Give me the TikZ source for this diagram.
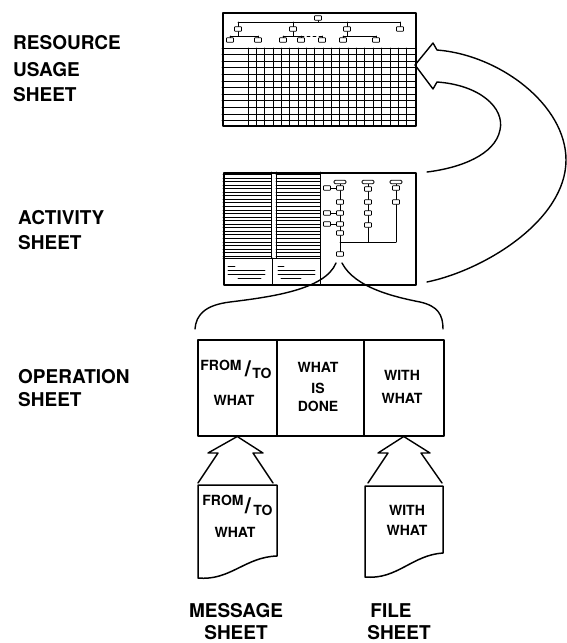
\documentclass[tikz,border=0pt]{standalone}
\usepackage{fontspec}
\setmainfont{TeX Gyre Heros}
\begin{document}
\begin{tikzpicture}[x=1pt,y=-1pt,
  line cap=round, line join=round,
  lbl/.style={font=\bfseries\fontsize{19}{19}\selectfont, inner sep=0, anchor=west},
  bigtext/.style={font=\bfseries\fontsize{19}{19}\selectfont, inner sep=0},
  txt/.style={font=\bfseries\fontsize{14}{14}\selectfont, inner sep=0},
  slash/.style={font=\bfseries\fontsize{22}{22}\selectfont, inner sep=0},
  frame/.style={draw, line width=1.5, inner sep=0},
  rule/.style={line width=0.9},
  thin/.style={line width=0.7},
  mini/.style={draw, line width=0.8, fill=white, rounded corners=0.6, minimum width=7, minimum height=4.5, inner sep=0},
  oblong/.style={draw, line width=0.8, fill=white, rounded corners=1.2, minimum width=12, minimum height=3.5, inner sep=0},
  curve/.style={line width=1.4},
  blockarrow/.style={line width=1.4}]
\useasboundingbox (0,0) rectangle (567,643);

% ---------- side labels ----------
\node[lbl] (lr1) at (13,43) {RESOURCE};
\node[lbl] (lr2) at (13,70) {USAGE};
\node[lbl] (lr3) at (13,95) {SHEET};
\node[lbl] (la1) at (18,218) {ACTIVITY};
\node[lbl] (la2) at (18,243) {SHEET};
\node[lbl] (lo1) at (18,377) {OPERATION};
\node[lbl] (lo2) at (18,400) {SHEET};
\node[bigtext] (lm1) at (236,611) {MESSAGE};
\node[bigtext] (lm2) at (236,633) {SHEET};
\node[bigtext] (lf1) at (391,611) {FILE};
\node[bigtext] (lf2) at (399,633) {SHEET};

% ---------- resource usage sheet ----------
\node[frame, minimum width=193, minimum height=113, anchor=north west] (rus) at (222,12) {};
\draw[rule] (222,48) -- (415,48);
\foreach \k in {1,...,11} \draw[rule] (222,48+6.6*\k) -- (415,48+6.6*\k);
\foreach \j in {0,...,19} \draw[rule] (248+8.35*\j,48) -- (248+8.35*\j,125);
% header tree
\draw[thin] (318,18) -- (318,22) (238,22) -- (400,22);
\foreach \x in {238,293,347,400} \draw[thin] (\x,22) -- (\x,29);
\draw[thin] (230,36) -- (258,36) (238,29) -- (238,36);
\draw[thin] (283,36) -- (301,36) (293,29) -- (293,36);
\draw[thin, dash pattern=on 3 off 3] (301,36) -- (322,36);
\draw[thin] (343,36) -- (376,36) (347,29) -- (347,36);
\foreach \x in {230,258,283,301,322,343,376} \draw[thin] (\x,36) -- (\x,40);
\node[mini] (h0) at (318,18) {};
\foreach \x/\n in {238/a,293/b,347/c,400/d} \node[mini] (h\n) at (\x,29) {};
\foreach \x/\n in {230/1,258/2,283/3,301/4,322/5,343/6,376/7} \node[mini] (g\n) at (\x,40) {};

% ---------- activity sheet ----------
\node[frame, minimum width=192, minimum height=112, anchor=north west] (act) at (223,172) {};
\draw[rule] (320,172) -- (320,284);
\foreach \k in {0,...,23} {
  \draw[rule] (223,174.5+3.55*\k) -- (271,174.5+3.55*\k);
  \draw[rule] (276,174.5+3.55*\k) -- (320,174.5+3.55*\k);
}
\draw[rule] (271,172) -- (271,258) (276,172) -- (276,258);
\draw[rule] (223,258) -- (320,258) (272,258) -- (272,284);
\draw[thin] (228,266) -- (235,266) (228,270) -- (265,270) (228,274) -- (265,274) (238,278) -- (261,278);
\draw[thin] (278,266) -- (284,266) (278,270) -- (315,270) (278,274) -- (315,274) (281,278) -- (301,278);
% activity network
\draw[thin] (340,182) -- (340,254) (340,242) -- (396,242);
\draw[thin] (368,182) -- (368,242) (396,182) -- (396,242);
\draw[thin] (327,188) -- (340,188) (327,213) -- (340,213) (327,224) -- (340,224);
\foreach \x/\n in {340/1,368/2,396/3} \node[oblong] (t\n) at (\x,182) {};
\foreach \y/\n in {188/1,202/2,213/3,224/4,233/5} \node[mini] (p\n) at (340,\y) {};
\node[mini] (pend) at (340,254) {};
\foreach \y/\n in {188/1,213/2,224/3} \node[mini] (q\n) at (327,\y) {};
\foreach \y/\n in {189/1,202/2,213/3,225/4} \node[mini] (r\n) at (368,\y) {};
\foreach \y/\n in {188/1,202/2} \node[mini] (s\n) at (396,\y) {};

% ---------- operation sheet ----------
\node[frame, minimum width=79, minimum height=96, anchor=north west] (c1) at (197,339) {};
\node[frame, minimum width=87, minimum height=96, anchor=north west] (c2) at (276,339) {};
\node[frame, minimum width=80, minimum height=96, anchor=north west] (c3) at (363,339) {};
\node[txt] (c1a) at (221,365) {FROM};
\node[slash] (c1s) at (248,369) {/};
\node[txt] (c1b) at (262,373) {TO};
\node[txt] (c1c) at (234,400) {WHAT};
\node[txt] (c2a) at (318,367) {WHAT};
\node[txt] (c2b) at (318,388) {IS};
\node[txt] (c2c) at (318,406) {DONE};
\node[txt] (c3a) at (402,375) {WITH};
\node[txt] (c3b) at (402,398) {WHAT};

% brace spreading the last activity into the operation sheet
\draw[curve] (336,263) .. controls (325,290) and (270,297) .. (230,302)
                       .. controls (205,305) and (196,315) .. (195,329);
\draw[curve] (342,263) .. controls (355,288) and (395,297) .. (420,302)
                       .. controls (438,306) and (443,315) .. (443,329);

% ---------- message and file sheets ----------
\draw[frame] (198,485) -- (198,578) .. controls (230,581) and (245,557) .. (277,556) -- (277,485) -- cycle;
\node[txt] (m1) at (223,500) {FROM};
\node[slash] (ms) at (248,506) {/};
\node[txt] (m2) at (263,510) {TO};
\node[txt] (m3) at (235,532) {WHAT};

\draw[frame] (365,486) -- (365,577) .. controls (397,580) and (412,555) .. (443,553) -- (443,486) -- cycle;
\node[txt] (f1) at (407,510) {WITH};
\node[txt] (f2) at (407,530) {WHAT};

% hollow arrows feeding the operation sheet
\draw[blockarrow] (198,483) -- (218,453) -- (208,453) -- (c1.south) -- (263,453) -- (253,453) -- (273,483);
\draw[blockarrow] (368,483) -- (388,453) -- (378,453) -- (c3.south) -- (430,453) -- (421,453) -- (442,483);

% ---------- return arrow from activity to resource usage ----------
\coordinate (tip) at (415,65);
\draw[blockarrow] (427,282) .. controls (485,270) and (566,220) .. (566,160)
                            .. controls (566,105) and (500,55) .. (437,50)
                            -- (433,43) -- (tip) -- (433,89) -- (437,82)
                            .. controls (480,85) and (505,108) .. (500,130)
                            .. controls (495,155) and (460,168) .. (427,172);
\end{tikzpicture}
\end{document}
